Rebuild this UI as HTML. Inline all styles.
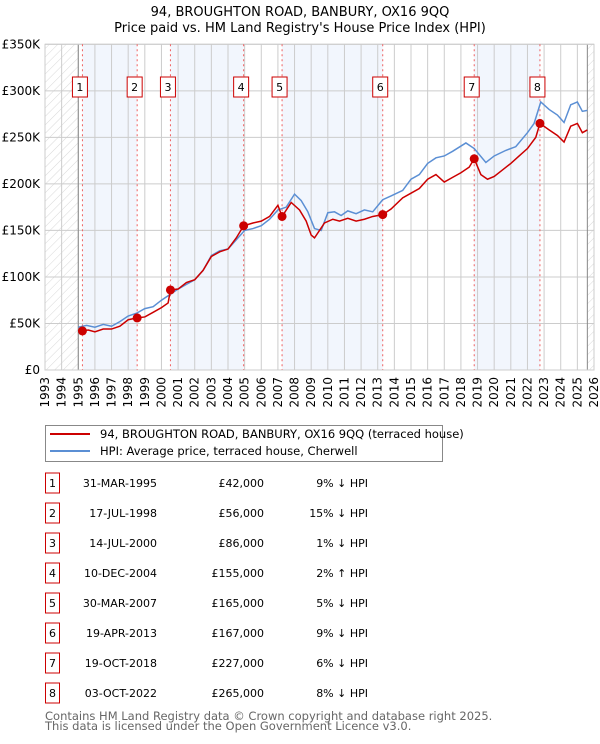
<!DOCTYPE html>
<html><head><meta charset="utf-8"><style>
body{margin:0;background:#fff;font-family:"DejaVu Sans","Liberation Sans",sans-serif;}
svg text{font-family:"DejaVu Sans","Liberation Sans",sans-serif;}
</style></head><body>
<svg id="c" width="600" height="740" viewBox="0 0 600 740" xmlns="http://www.w3.org/2000/svg">
<defs><pattern id="hatch" width="6" height="6" patternUnits="userSpaceOnUse" patternTransform="rotate(45)"><line x1="0" y1="0" x2="0" y2="6" stroke="#d8d8d8" stroke-width="1"/></pattern></defs>
<text x="300" y="16" text-anchor="middle" font-size="13">94, BROUGHTON ROAD, BANBURY, OX16 9QQ</text>
<text x="300" y="32" text-anchor="middle" font-size="13">Price paid vs. HM Land Registry's House Price Index (HPI)</text>
<g id="plot"></g>
<g>
<rect x="45.5" y="425.5" width="397" height="36" fill="#fff" stroke="#888"/>
<line x1="50" y1="434" x2="90" y2="434" stroke="#cc0000" stroke-width="2"/>
<text x="100" y="438" font-size="11.5">94, BROUGHTON ROAD, BANBURY, OX16 9QQ (terraced house)</text>
<line x1="50" y1="451" x2="90" y2="451" stroke="#5b8fd4" stroke-width="2"/>
<text x="100" y="455" font-size="11.5">HPI: Average price, terraced house, Cherwell</text>
</g>
<g id="table"></g>
<text x="45" y="720" font-size="11.5" fill="#666">Contains HM Land Registry data © Crown copyright and database right 2025.</text>
<text x="45" y="730" font-size="11.5" fill="#666">This data is licensed under the Open Government Licence v3.0.</text>
</svg>
<script>
const yTicks=[0,50,100,150,200,250,300,350];
const yTickLabels=["£0","£50K","£100K","£150K","£200K","£250K","£300K","£350K"];
const xYears=[1993,1994,1995,1996,1997,1998,1999,2000,2001,2002,2003,2004,2005,2006,2007,2008,2009,2010,2011,2012,2013,2014,2015,2016,2017,2018,2019,2020,2021,2022,2023,2024,2025,2026];
const hpiT=[1995.0,1995.5,1996,1996.5,1997,1997.5,1998,1998.5,1999,1999.5,2000,2000.5,2001,2001.5,2002,2002.5,2003,2003.5,2004,2004.5,2005,2005.5,2006,2006.5,2007,2007.5,2008.0,2008.4,2008.8,2009.2,2009.6,2010.0,2010.4,2010.8,2011.2,2011.7,2012.2,2012.7,2013.3,2013.8,2014.5,2015,2015.5,2016,2016.5,2017,2017.5,2018.3,2018.8,2019.5,2020,2020.7,2021.3,2022,2022.4,2022.8,2023.3,2023.8,2024.2,2024.6,2025,2025.3,2025.6];
const hpiV=[46,48,46,49,47,52,58,61,66,68,75,81,87,92,97,107,123,128,130,140,150,152,155,162,172,175,189,182,170,152,150,169,170,166,171,168,172,170,183,187,193,205,210,222,228,230,235,244,238,223,230,236,240,255,265,288,280,274,266,285,288,278,279];
const propT=[1995.25,1995.6,1996,1996.5,1997,1997.5,1998,1998.54,1999,1999.5,2000,2000.4,2000.54,2001,2001.5,2002,2002.5,2003,2003.5,2004,2004.5,2004.94,2005.5,2006,2006.5,2007.0,2007.25,2007.8,2008.3,2008.7,2009.0,2009.2,2009.8,2010.3,2010.7,2011.2,2011.7,2012.2,2012.7,2013.3,2013.8,2014.5,2015,2015.5,2016,2016.5,2017,2017.5,2018,2018.5,2018.8,2019.2,2019.6,2020,2020.5,2021,2021.5,2022,2022.5,2022.75,2023.3,2023.8,2024.2,2024.6,2025,2025.3,2025.6];
const propV=[42,43,41,44,44,47,54,56,57,62,67,72,86,87,94,97,107,122,127,130,142,155,158,160,165,177,165,180,172,160,145,142,158,162,160,163,160,162,165,167,173,185,190,195,205,210,202,207,212,218,227,210,205,208,215,222,230,238,250,265,258,252,245,262,265,255,258];
const saleDates=[1995.25,1998.54,2000.54,2004.94,2007.25,2013.3,2018.8,2022.75];
const salePrices=[42,56,86,155,165,167,227,265];
const saleDateLabels=["31-MAR-1995","17-JUL-1998","14-JUL-2000","10-DEC-2004","30-MAR-2007","19-APR-2013","19-OCT-2018","03-OCT-2022"];
const salePriceLabels=["£42,000","£56,000","£86,000","£155,000","£165,000","£167,000","£227,000","£265,000"];
const saleHpiLabels=["9% ↓ HPI","15% ↓ HPI","1% ↓ HPI","2% ↑ HPI","5% ↓ HPI","9% ↓ HPI","6% ↓ HPI","8% ↓ HPI"];
const NS="http://www.w3.org/2000/svg";
const X0=45,X1=594,Y0=370,Y1=44.3;
const xs=t=>X0+(t-1993)*(X1-X0)/33;
const ys=v=>Y0-v*(Y0-Y1)/350;
const plot=document.getElementById('plot');
function mk(tag,a,p){const e=document.createElementNS(NS,tag);for(const k in a)e.setAttribute(k,a[k]);(p||plot).appendChild(e);return e;}
for(let i=0;i<saleDates.length;i+=2){const a=saleDates[i],b=i+1<saleDates.length?saleDates[i+1]:2025.6;
const r=mk('rect',{x:xs(a),y:Y1,width:xs(b)-xs(a),height:Y0-Y1,fill:'#f2f6fd'});

}
const h1=mk('rect',{x:X0,y:Y1,width:xs(1995)-X0,height:Y0-Y1,fill:'url(#hatch)'});


const h2=mk('rect',{x:xs(2025.6),y:Y1,width:X1-xs(2025.6),height:Y0-Y1,fill:'url(#hatch)'});


xYears.forEach(y=>{const l=mk('line',{x1:xs(y),y1:Y1,x2:xs(y),y2:Y0,stroke:'#ccc'});


const t=mk('text',{x:0,y:0,'font-size':12,'text-anchor':'end',transform:`translate(${xs(y)+4},${Y0+7}) rotate(-90)`});t.textContent=y;

});
yTicks.forEach((v,i)=>{const l=mk('line',{x1:X0,y1:ys(v),x2:X1,y2:ys(v),stroke:'#ccc'});


const t=mk('text',{x:40,y:ys(v)+4,'font-size':12,'text-anchor':'end'});t.textContent=yTickLabels[i];

});
mk('line',{x1:xs(1995),y1:Y1,x2:xs(1995),y2:Y0,stroke:'#888'});
mk('line',{x1:xs(2025.6),y1:Y1,x2:xs(2025.6),y2:Y0,stroke:'#888'});
mk('rect',{x:X0,y:Y1,width:X1-X0,height:Y0-Y1,fill:'none',stroke:'#ccc'});
saleDates.forEach((d,i)=>{const l=mk('line',{x1:xs(d),y1:Y1,x2:xs(d),y2:Y0,stroke:'#f06060','stroke-dasharray':'2,3'});

});
const hp=mk('polyline',{points:hpiT.map((t,i)=>xs(t)+','+ys(hpiV[i])).join(' '),fill:'none',stroke:'#5b8fd4','stroke-width':1.5});


const pp=mk('polyline',{points:propT.map((t,i)=>xs(t)+','+ys(propV[i])).join(' '),fill:'none',stroke:'#cc0000','stroke-width':1.5});


saleDates.forEach((d,i)=>{const c=mk('circle',{cx:xs(d),cy:ys(salePrices[i]),r:4.5,fill:'#cc0000'});


const b=mk('rect',{x:xs(d)-10,y:77,width:15,height:20,fill:'#fff',stroke:'#cc0000'});


const t=mk('text',{x:xs(d)-2.5,y:91,'font-size':11,'text-anchor':'middle'});t.textContent=i+1;

});
const tb=document.getElementById('table');
saleDates.forEach((d,i)=>{const cy=483+30*i;
const b=mk('rect',{x:45.5,y:cy-10,width:14,height:20,fill:'#fff',stroke:'#cc0000'},tb);


const n=mk('text',{x:52.5,y:cy+4,'font-size':11,'text-anchor':'middle'},tb);n.textContent=i+1;


const t1=mk('text',{x:157,y:cy+4,'font-size':11,'text-anchor':'end'},tb);t1.textContent=saleDateLabels[i];


const t2=mk('text',{x:264,y:cy+4,'font-size':11,'text-anchor':'end'},tb);t2.textContent=salePriceLabels[i];


const t3=mk('text',{x:368,y:cy+4,'font-size':11,'text-anchor':'end'},tb);t3.textContent=saleHpiLabels[i];

});
</script>
</body></html>
